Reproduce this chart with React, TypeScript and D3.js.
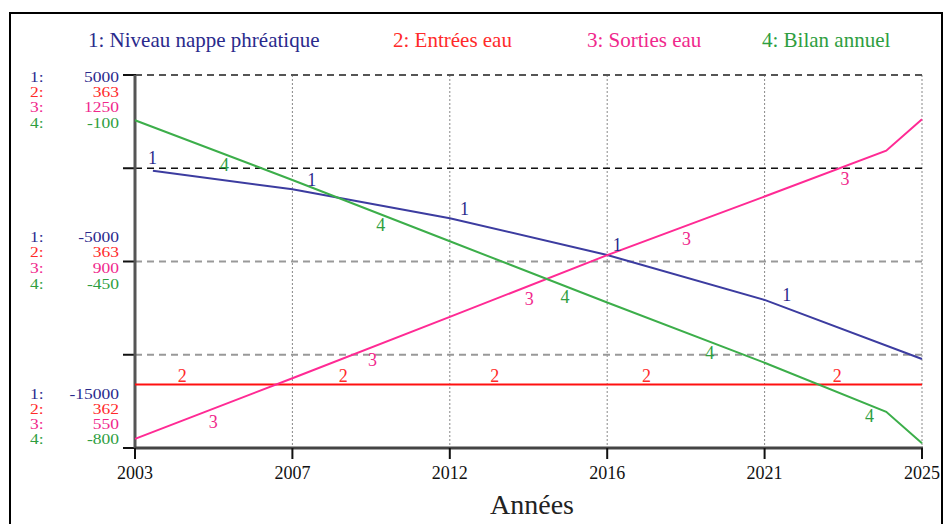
import React from "react";
import * as d3 from "d3";

// ---- Data ----
const tickYears = [2003, 2007.4, 2011.8, 2016.2, 2020.6, 2025];
const tickLabels = ["2003", "2007", "2012", "2016", "2021", "2025"];

const seriesNames = ["Niveau nappe phréatique", "Entrées eau", "Sorties eau", "Bilan annuel"];

const niveauYears = [2003.5, 2007.4, 2011.8, 2016.2, 2020.6, 2025];
const niveauValues = [-130, -1130, -2680, -4650, -7060, -10230];

const entreesYears = [2003, 2025];
const entreesValues = [362.17, 362.17];

const sortiesYears = [2003, 2007.4, 2011.8, 2016.2, 2020.6, 2024, 2025];
const sortiesValues = [567, 681, 796, 912, 1022, 1108, 1167];

const bilanYears = [2003, 2007.4, 2011.8, 2016.2, 2020.6, 2024, 2025];
const bilanValues = [-185, -297, -412, -527, -640, -732, -791];

const niveauDomain = [-15000, 5000];
const entreesDomain = [362, 363];
const sortiesDomain = [550, 1250];
const bilanDomain = [-800, -100];

const niveauGrid = [-15000, -10000, -5000, 0, 5000];

// label placement years along each line
const niveauLabelYears = [2003.49, 2007.94, 2012.21, 2016.48, 2021.22];
const entreesLabelYears = [2004.32, 2008.82, 2013.06, 2017.3, 2022.63];
const sortiesLabelYears = [2005.19, 2009.64, 2014.02, 2018.42, 2022.85];
const bilanLabelYears = [2005.5, 2009.87, 2015.02, 2019.07, 2023.53];

const textColors = ["#2a2a8c", "#ff2a2a", "#f0288c", "#2e9e40"];
const lineColors = ["#3c3ca0", "#ff1010", "#ff2a94", "#3cae4a"];

const W = 945;
const H = 524;
const L = 135, R = 922, T = 75, B = 448;

export default function App() {
  const x = d3.scaleLinear().domain([2003, 2025]).range([L, R]);
  const domains = [niveauDomain, entreesDomain, sortiesDomain, bilanDomain];
  const yScales = domains.map((dm) => d3.scaleLinear().domain(dm).range([B, T]));
  const series = [
    { years: niveauYears, values: niveauValues, labels: niveauLabelYears, dy: -13 },
    { years: entreesYears, values: entreesValues, labels: entreesLabelYears, dy: -9 },
    { years: sortiesYears, values: sortiesValues, labels: sortiesLabelYears, dy: 13 },
    { years: bilanYears, values: bilanValues, labels: bilanLabelYears, dy: 11 },
  ];
  const legendX = [88, 393, 587, 762];
  const font = "'Liberation Serif', 'Times New Roman', serif";
  const y1 = yScales[0];

  const groupOffsets = [
    { base: T, offs: [2, 17, 32.5, 48.5] },
    { base: (T + B) / 2, offs: [-24.5, -9, 7, 23] },
    { base: B, offs: [-54, -39, -24, -8.5] },
  ];
  const groupVals = (k: number) =>
    domains.map((dm) => {
      const v = k === 0 ? dm[1] : k === 2 ? dm[0] : (dm[0] + dm[1]) / 2;
      return String(Math.round(v));
    });

  return (
    <svg
      width={W}
      height={H}
      style={{ position: "absolute", left: 0, top: 0, background: "#fff" }}
      fontFamily={font}
    >
      <rect x={0} y={0} width={W} height={H} fill="#fff" />
      <rect x={10} y={13} width={932} height={530} fill="none" stroke="#000" strokeWidth={2} />

      {/* legend */}
      {seriesNames.map((n, i) => (
        <text key={n} x={legendX[i]} y={47} fontSize={21} fill={textColors[i]}>
          {`${i + 1}: ${n}`}
        </text>
      ))}

      {/* vertical dotted gridlines */}
      {tickYears.slice(1).map((t) => (
        <line key={t} x1={x(t)} x2={x(t)} y1={T} y2={B} stroke="#888" strokeWidth={1} strokeDasharray="2,2" />
      ))}

      {/* horizontal dashed gridlines */}
      {niveauGrid.map((g) => {
        const yy = y1(g);
        const col = g === 0 ? "#111" : g === 5000 ? "#555" : "#999";
        return (
          <line key={g} x1={L} x2={R} y1={yy} y2={yy} stroke={col} strokeWidth={g === 0 ? 1.5 : 2} strokeDasharray="7,5" />
        );
      })}

      {/* left ticks */}
      {niveauGrid.map((g) => (
        <line key={"t" + g} x1={123} x2={136} y1={y1(g)} y2={y1(g)} stroke="#111" strokeWidth={2} />
      ))}

      {/* axes */}
      <line x1={L} x2={L} y1={T} y2={B} stroke="#555" strokeWidth={3} />
      <line x1={L} x2={R + 1} y1={B} y2={B} stroke="#444" strokeWidth={3} />
      {tickYears.map((t) => (
        <line key={"bt" + t} x1={x(t)} x2={x(t)} y1={B} y2={B + 11} stroke="#111" strokeWidth={2} />
      ))}
      {tickYears.map((t, i) => (
        <text key={"bl" + t} x={x(t)} y={B + 31} fontSize={18} textAnchor="middle" fill="#111">
          {tickLabels[i]}
        </text>
      ))}
      <text x={532} y={514} fontSize={28} textAnchor="middle" fill="#222">
        Années
      </text>

      {/* left scale labels */}
      {groupOffsets.map((g, k) => {
        const vals = groupVals(k);
        return vals.map((v, i) => {
          const yy = g.base + g.offs[i] + 4.5;
          return (
            <g key={`g${k}-${i}`} fill={textColors[i]} fontSize={14}>
              <text transform={`translate(30,${yy}) scale(1.25,1)`}>{`${i + 1}:`}</text>
              <text transform={`translate(119,${yy}) scale(1.25,1)`} textAnchor="end">
                {v}
              </text>
            </g>
          );
        });
      })}

      {/* lines */}
      {series.map((s, i) => {
        const line = d3
          .line<number>()
          .x((_, j) => x(s.years[j]))
          .y((v) => yScales[i](v));
        return (
          <path key={"l" + i} d={line(s.values) || ""} fill="none" stroke={lineColors[i]} strokeWidth={2} />
        );
      })}

      {/* line number labels */}
      {series.map((s, i) => {
        const interp = d3.scaleLinear().domain(s.years).range(s.values).clamp(true);
        return s.labels.map((t) => (
          <text
            key={`n${i}-${t}`}
            x={x(t)}
            y={yScales[i](interp(t)) + s.dy + 6}
            fontSize={18}
            textAnchor="middle"
            fill={textColors[i]}
          >
            {i + 1}
          </text>
        ));
      })}
    </svg>
  );
}
